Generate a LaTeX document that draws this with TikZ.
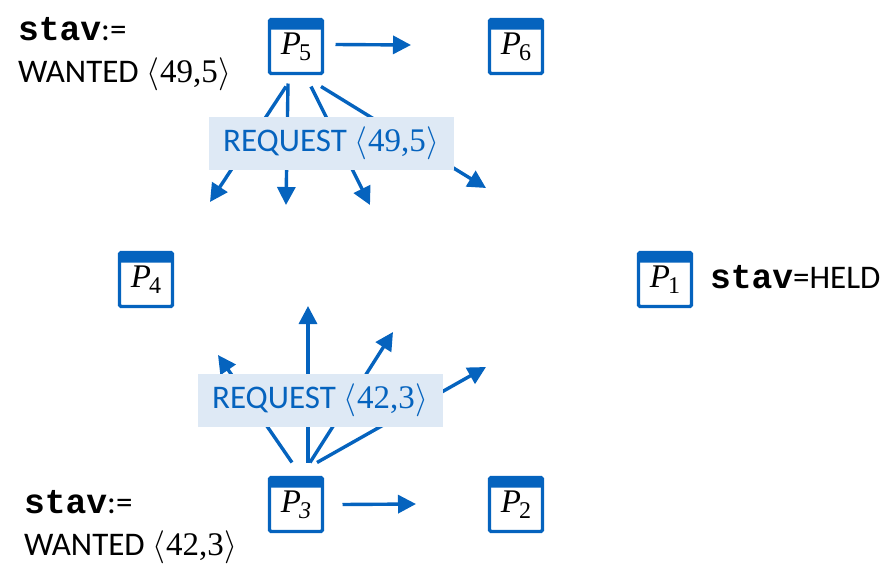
\documentclass[tikz,border=0pt]{standalone}
\usepackage{fontspec}
\usepackage{fix-cm}
\setmainfont{Carlito}
\newfontfamily\serifnum{Liberation Serif}
\newfontfamily\monob[Scale=1.05]{Liberation Mono}
\usetikzlibrary{arrows.meta}
\definecolor{procblue}{HTML}{0563BE}
\definecolor{labelbg}{HTML}{DEE9F5}
\newcommand{\angled}[1]{$\langle$\kern1pt{\serifnum #1}\kern1pt$\rangle$}
\newcommand{\procname}[1]{{\fontsize{33}{34}\selectfont\serifnum\itshape P}\kern-2pt\raisebox{-6pt}{\fontsize{24}{25}\selectfont\serifnum #1}}
\newcommand{\stavword}{{\monob\bfseries stav}}
\tikzset{
  x=1pt,y=-1pt,
  proc/.style={draw=procblue,line width=3.4pt,rounded corners=1.5pt,fill=white,
    minimum width=53pt,minimum height=54pt,inner sep=0pt,outer sep=0pt,text=black,
    path picture={\fill[procblue] (path picture bounding box.north west) rectangle ([yshift=-10pt]path picture bounding box.north east);}},
  msg/.style={draw=procblue,line width=3.4pt,-{Triangle[length=18pt,width=18pt]}},
  reqlabel/.style={fill=labelbg,text=procblue,minimum width=245pt,minimum height=53pt,inner sep=0pt,outer sep=0pt,font=\fontsize{33}{36}\selectfont},
  note/.style={anchor=base west,inner sep=0pt,outer sep=0pt,text=black,font=\fontsize{33}{36}\selectfont}
}
\begin{document}
\begin{tikzpicture}
\useasboundingbox (0,0) rectangle (881,570);
\node[proc] (p5) at (296,46.5) {\procname{5}};
\node[proc] (p6) at (516,46.5) {\procname{6}};
\node[proc] (p4) at (146,279.5) {\procname{4}};
\node[proc] (p1) at (665,279.5) {\procname{1}};
\node[proc] (p3) at (296,504.5) {\procname{\itshape 3}};
\node[proc] (p2) at (516,504.5) {\procname{2}};
% free ends
\coordinate (t56) at (411,45);
\coordinate (t5a) at (210,202);
\coordinate (t5b) at (286,205);
\coordinate (t5c) at (370,205);
\coordinate (t5d) at (486,188);
\coordinate (t32) at (416,504);
\coordinate (t3a) at (218,355);
\coordinate (t3b) at (308,306);
\coordinate (t3c) at (393,332);
\coordinate (t3d) at (486,367);
% connectors
\draw[msg] ([shift={(13,-2)}]p5.east) -- (t56);
\draw[msg] ([shift={(-10,13)}]p5.south) -- (t5a);
\draw[msg] ([shift={(-8,10)}]p5.south) -- (t5b);
\draw[msg] ([shift={(15,13)}]p5.south) -- (t5c);
\draw[msg] ([shift={(25,13)}]p5.south) -- (t5d);
\draw[msg] ([shift={(20,0)}]p3.east) -- (t32);
\draw[msg] ([shift={(-4,-15)}]p3.north) -- (t3a);
\draw[msg] ([shift={(12,-15)}]p3.north) -- (t3b);
\draw[msg] ([shift={(14,-15)}]p3.north) -- (t3c);
\draw[msg] ([shift={(21,-15)}]p3.north) -- (t3d);
% labels
\node[reqlabel] (req5) at (331.5,143.5) {\raisebox{-2pt}{REQUEST \angled{49,5}}};
\node[reqlabel] (req3) at (320.5,400.5) {\raisebox{-2pt}{REQUEST \angled{42,3}}};
\node[note] (s5) at (18,40) {\stavword:=};
\node[note] (w5) at (18,82) {WANTED \angled{49,5}};
\node[note] (s3) at (24,513) {\stavword:=};
\node[note] (w3) at (24,555) {WANTED \angled{42,3}};
\node[note] (s1) at (710,288) {\stavword=HELD};
\end{tikzpicture}
\end{document}
